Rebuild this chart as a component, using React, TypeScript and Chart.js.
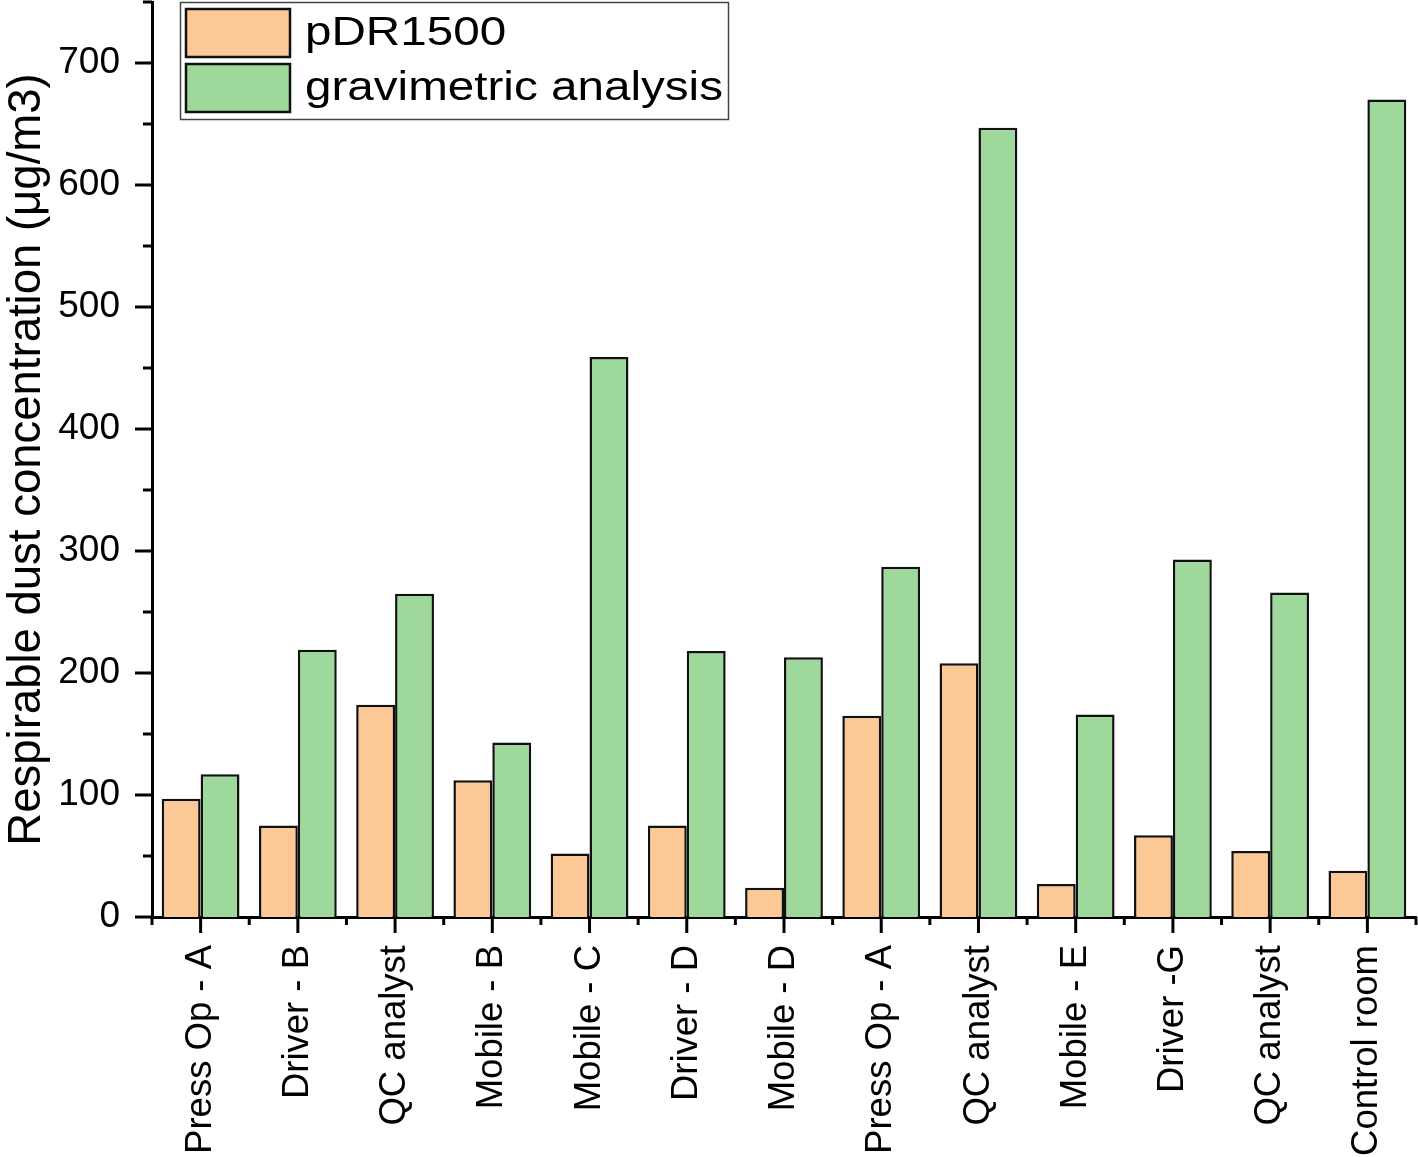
import React, { useEffect, useRef } from "react";
import { Chart, registerables } from "chart.js";

Chart.register(...registerables);

const categories = [
  "Press Op - A",
  "Driver - B",
  "QC analyst",
  "Mobile - B",
  "Mobile - C",
  "Driver - D",
  "Mobile - D",
  "Press Op - A",
  "QC analyst",
  "Mobile - E",
  "Driver -G",
  "QC analyst",
  "Control room",
];

const pdr1500 = [97, 75, 174, 112, 52, 75, 24, 165, 208, 27, 67, 54, 38];
const gravimetric = [117, 219, 265, 143, 459, 218, 213, 287, 647, 166, 293, 266, 670];

const seriesLabels = ["pDR1500", "gravimetric analysis"];
const yMajorTicks = [0, 100, 200, 300, 400, 500, 600, 700];
const yMinorTicks = [50, 150, 250, 350, 450, 550, 650, 750];

const ORANGE = "#FCC896";
const GREEN = "#9ED89B";
const FONT = "'Liberation Sans', Arial, Helvetica, sans-serif";

const ticksPlugin = {
  id: "customTicks",
  afterDraw(chart: any) {
    const ctx = chart.ctx;
    const x = chart.scales.x;
    const y = chart.scales.y;
    const area = chart.chartArea;
    ctx.save();
    ctx.strokeStyle = "#000";
    ctx.lineWidth = 3;
    ctx.lineCap = "butt";
    yMajorTicks.forEach((v) => {
      const py = y.getPixelForValue(v);
      ctx.beginPath();
      ctx.moveTo(area.left - 17, py);
      ctx.lineTo(area.left, py);
      ctx.stroke();
    });
    yMinorTicks.forEach((v) => {
      const py = y.getPixelForValue(v);
      ctx.beginPath();
      ctx.moveTo(area.left - 9, py);
      ctx.lineTo(area.left, py);
      ctx.stroke();
    });
    const n = categories.length;
    const half = (x.getPixelForValue(1) - x.getPixelForValue(0)) / 2;
    for (let i = 0; i < n; i++) {
      const px = x.getPixelForValue(i);
      ctx.beginPath();
      ctx.moveTo(px, area.bottom);
      ctx.lineTo(px, area.bottom + 16);
      ctx.stroke();
      const edges = i === n - 1 ? [px - half, px + half] : [px - half];
      edges.forEach((ex) => {
        ctx.beginPath();
        ctx.moveTo(ex, area.bottom);
        ctx.lineTo(ex, area.bottom + 8);
        ctx.stroke();
      });
    }
    ctx.restore();
  },
};

const legendPlugin = {
  id: "insideLegend",
  afterDraw(chart: any) {
    const ctx = chart.ctx;
    const ds = chart.data.datasets;
    ctx.save();
    const bx = 180.5, by = 2.5, bw = 548, bh = 117;
    ctx.fillStyle = "#fff";
    ctx.fillRect(bx, by, bw, bh);
    ctx.strokeStyle = "#444";
    ctx.lineWidth = 1.5;
    ctx.strokeRect(bx, by, bw, bh);
    const rows = [33, 88];
    ds.forEach((d: any, i: number) => {
      const cy = rows[i];
      ctx.fillStyle = d.backgroundColor;
      ctx.fillRect(186, cy - 24, 104, 48);
      ctx.strokeStyle = "#111";
      ctx.lineWidth = 2.5;
      ctx.strokeRect(186, cy - 24, 104, 48);
      ctx.save();
      ctx.translate(305, cy + 1);
      ctx.scale(1.19, 1);
      ctx.fillStyle = "#000";
      ctx.font = `40px ${FONT}`;
      ctx.textBaseline = "middle";
      ctx.textAlign = "left";
      ctx.fillText(d.label, 0, 0);
      ctx.restore();
    });
    ctx.restore();
  },
};

export default function App() {
  const ref = useRef<HTMLCanvasElement | null>(null);

  useEffect(() => {
    if (!ref.current) return;
    const chart = new Chart(ref.current, {
      type: "bar",
      data: {
        labels: categories,
        datasets: [
          {
            label: seriesLabels[0],
            data: pdr1500,
            backgroundColor: ORANGE,
            borderColor: "#111",
            borderWidth: 2.5,
            borderSkipped: "bottom",
            categoryPercentage: 0.8,
            barPercentage: 1.0,
          },
          {
            label: seriesLabels[1],
            data: gravimetric,
            backgroundColor: GREEN,
            borderColor: "#111",
            borderWidth: 2.5,
            borderSkipped: "bottom",
            categoryPercentage: 0.8,
            barPercentage: 1.0,
          },
        ],
      },
      options: {
        responsive: false,
        animation: false,
        layout: { padding: { left: 0, right: 2, top: 2, bottom: 0 } },
        plugins: {
          legend: { display: false },
          tooltip: { enabled: false },
        },
        scales: {
          x: {
            type: "category",
            grid: { display: false, drawTicks: false },
            border: { display: true, color: "#000", width: 3 },
            ticks: {
              autoSkip: false,
              minRotation: 90,
              maxRotation: 90,
              padding: 28,
              color: "#000",
              font: { family: FONT, size: 36.5 },
            },
            afterFit: (scale: any) => {
              scale.height = 240;
              scale.paddingLeft = 0;
              scale.paddingRight = 0;
            },
          },
          y: {
            type: "linear",
            min: 0,
            max: 750,
            grid: { display: false, drawTicks: false },
            border: { display: true, color: "#000", width: 3 },
            ticks: {
              stepSize: 100,
              includeBounds: false,
              padding: 32,
              color: "#000",
              font: { family: FONT, size: 37 },
            },
            title: {
              display: true,
              text: "Respirable dust concentration (μg/m3)",
              color: "#000",
              font: { family: FONT, size: 45.5 },
              padding: { top: 0, bottom: 0 },
            },
            afterFit: (scale: any) => {
              scale.width = 152;
              scale.paddingTop = 0;
              scale.paddingBottom = 0;
            },
          },
        },
      },
      plugins: [ticksPlugin, legendPlugin],
    });
    return () => chart.destroy();
  }, []);

  return (
    <div style={{ position: "fixed", left: 0, top: 0, width: 1418, height: 1157, background: "#fff" }}>
      <canvas ref={ref} width={1418} height={1157} style={{ display: "block" }} />
    </div>
  );
}
